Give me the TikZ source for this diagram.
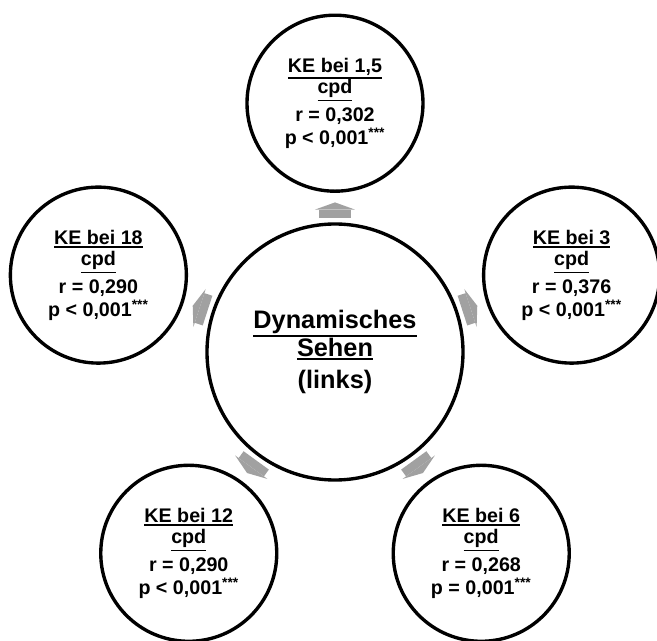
\documentclass[tikz,border=0pt]{standalone}
\usepackage{fontspec}
\setmainfont{Liberation Sans}
\usetikzlibrary{arrows.meta, positioning}

\newcommand{\ustrich}[1]{\setbox0=\hbox{#1}\dimen0=\dp0\advance\dimen0 by 2.4pt%
  \leavevmode\rlap{\rule[-\dimen0]{\wd0}{1.2pt}}\box0}

\begin{document}
\begin{tikzpicture}[
  kreis/.style={draw, circle, line width=2.4pt, minimum size=4.4cm, inner sep=0pt, outer sep=0pt,
                align=center, font=\bfseries\fontsize{14}{15.5}\selectfont},
  mitte/.style={kreis, minimum size=6.4cm, font=\bfseries\fontsize{18}{19}\selectfont},
  pfeil/.style={draw=black!37, line width=0.78cm,
                -{Triangle[length=0.18cm, width=1.0cm, line width=0pt]},
                shorten <=0.15cm, shorten >=0.28cm},
]
  \useasboundingbox (-8.375,-7.225) rectangle (8.05,8.8);
  \node[mitte] (dyn)  at (0,0)      {\ustrich{Dynamisches}\\\ustrich{Sehen}\\[4pt](links)};
  \node[kreis] (ke15) at (90:6.22)   {\ustrich{KE bei 1,5}\\\ustrich{cpd}\\[4pt]r = 0,302\\[1pt]p < 0,001\textsuperscript{***}};
  \node[kreis] (ke3)  at (18:6.22)   {\ustrich{KE bei 3}\\\ustrich{cpd}\\[4pt]r = 0,376\\[1pt]p < 0,001\textsuperscript{***}};
  \node[kreis] (ke6)  at (-54:6.22)  {\ustrich{KE bei 6}\\\ustrich{cpd}\\[4pt]r = 0,268\\[1pt]p = 0,001\textsuperscript{***}};
  \node[kreis] (ke12) at (-126:6.22) {\ustrich{KE bei 12}\\\ustrich{cpd}\\[4pt]r = 0,290\\[1pt]p < 0,001\textsuperscript{***}};
  \node[kreis] (ke18) at (162:6.22)  {\ustrich{KE bei 18}\\\ustrich{cpd}\\[4pt]r = 0,290\\[1pt]p < 0,001\textsuperscript{***}};
  \draw[pfeil] (dyn) -- (ke15);
  \draw[pfeil] (dyn) -- (ke3);
  \draw[pfeil] (dyn) -- (ke6);
  \draw[pfeil] (dyn) -- (ke12);
  \draw[pfeil] (dyn) -- (ke18);
\end{tikzpicture}
\end{document}
